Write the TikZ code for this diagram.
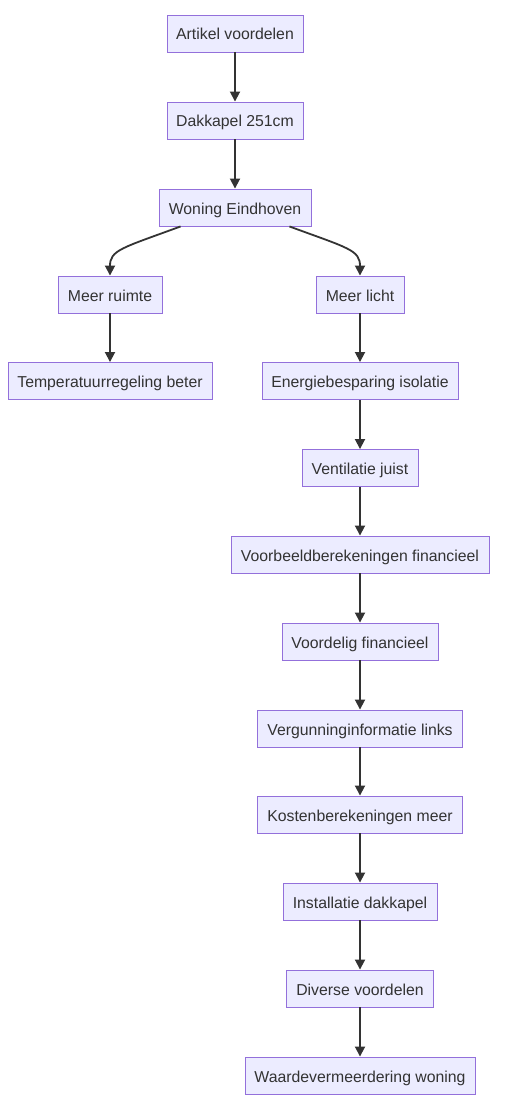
\documentclass[tikz,border=0pt]{standalone}
\usepackage{fontspec}
\setmainfont{Liberation Sans}
\usetikzlibrary{arrows.meta}
\definecolor{nodefill}{HTML}{ECECFF}
\definecolor{nodeline}{HTML}{9370DB}
\definecolor{txt}{HTML}{333333}
\begin{document}
\begin{tikzpicture}[x=1pt,y=-1pt,
  box/.style={draw=nodeline, fill=nodefill, line width=0.9pt, text=txt,
    minimum height=37pt, inner sep=0pt, text height=13.5pt, text depth=0.5pt,
    font=\fontsize{15.8}{18}\selectfont},
  link/.style={draw=txt, line width=1.8pt, -{Triangle[length=10pt,width=10pt]}}]
\useasboundingbox (0,0) rectangle (505,1110);
\node[box, minimum width=136pt] (a) at (235,33.5) {Artikel voordelen};
\node[box, minimum width=136pt] (b) at (235,120.5) {Dakkapel 251cm};
\node[box, minimum width=152pt] (c) at (235,207.5) {Woning Eindhoven};
\node[box, minimum width=104pt] (d) at (110,294.5) {Meer ruimte};
\node[box, minimum width=88pt] (e) at (360,294.5) {Meer licht};
\node[box, minimum width=204pt] (f) at (110,381) {Temperatuurregeling beter};
\node[box, minimum width=196pt] (g) at (360,381) {Energiebesparing isolatie};
\node[box, minimum width=116pt] (h) at (360,468) {Ventilatie juist};
\node[box, minimum width=258pt] (i) at (360,554.5) {Voorbeeldberekeningen financieel};
\node[box, minimum width=156pt] (j) at (360,641.5) {Voordelig financieel};
\node[box, minimum width=205pt] (k) at (360,728.5) {Vergunninginformatie links};
\node[box, minimum width=205pt] (l) at (360,814.5) {Kostenberekeningen meer};
\node[box, minimum width=154pt] (m) at (360,901.5) {Installatie dakkapel};
\node[box, minimum width=147pt] (n) at (360,988.5) {Diverse voordelen};
\node[box, minimum width=230pt] (o) at (360,1075.5) {Waardevermeerdering woning};
\draw[link] (a) -- (b);
\draw[link] (b) -- (c);
\draw[link] ([xshift=22pt]c.south west) .. controls (122,248) and (110,250) .. (d.north);
\draw[link] ([xshift=-22pt]c.south east) .. controls (348,248) and (360,250) .. (e.north);
\draw[link] (d) -- (f);
\draw[link] (e) -- (g);
\draw[link] (g) -- (h);
\draw[link] (h) -- (i);
\draw[link] (i) -- (j);
\draw[link] (j) -- (k);
\draw[link] (k) -- (l);
\draw[link] (l) -- (m);
\draw[link] (m) -- (n);
\draw[link] (n) -- (o);
\end{tikzpicture}
\end{document}
